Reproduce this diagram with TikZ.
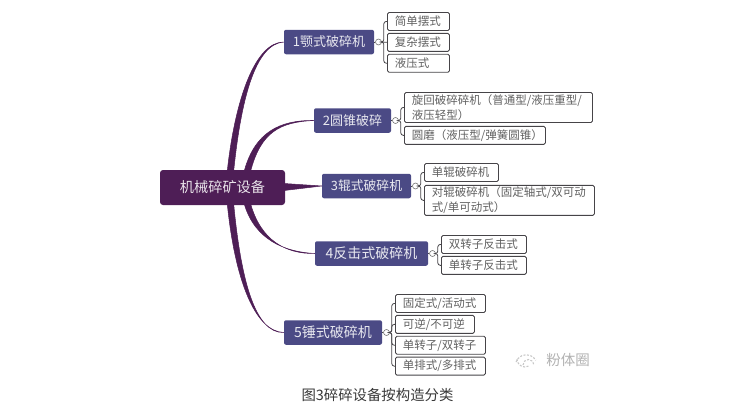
\documentclass[tikz,border=0pt]{standalone}
\usepackage{xcolor}
\usepackage{fontspec}
\setmainfont{Noto Sans CJK SC}
\usepackage{tikz}
\definecolor{rootPurple}{RGB}{78, 30, 86}
\definecolor{branchBlue}{RGB}{75, 74, 133}
\definecolor{leafGray}{RGB}{70, 68, 72}
\usetikzlibrary{positioning, calc}
\newcommand{\taper}[4]{\fill[trunk] ($(#1)+(-3.2,0)$) .. controls ($(#2)+(-3,0)$) and ($(#3)+(0,-1)$) .. (#4.west) .. controls ($(#3)+(0,1)$) and ($(#2)+(3,0)$) .. ($(#1)+(3.2,0)$) -- cycle;}

\begin{document}
\begin{tikzpicture}[
    x=1pt, y=-1pt,
    node distance=100pt,
    rootbox/.style={rectangle, rounded corners=3pt, fill=rootPurple, text=white!88!rootPurple, minimum width=125pt, minimum height=35pt, font=\fontsize{14.2}{17}\selectfont},
    branchbox/.style={rectangle, rounded corners=2pt, fill=branchBlue, text=white!88!branchBlue, minimum height=24.5pt, inner xsep=0pt, font=\fontsize{#1}{16}\selectfont},
    leaf/.style={rectangle, rounded corners=1.5pt, draw=leafGray, line width=.9pt, fill=white, text=black!62, anchor=north west, align=left, inner xsep=7.5pt, inner ysep=0pt, text width=#1-15pt, minimum height=18pt, font=\fontsize{11.5}{14.5}\selectfont},
    knot/.style={circle, draw=black!55, fill=white, line width=.6pt, inner sep=0pt, minimum size=6pt},
    twig/.style={draw=leafGray, line width=.8pt, rounded corners=2.5pt},
    trunk/.style={fill=rootPurple, draw=rootPurple, line width=.5pt}
]
    \useasboundingbox (0,0) rectangle (750,415);

    \node[rootbox] (root) at (222.5,187.5) {机械碎矿设备};

    % main categories
    \node[branchbox=13, minimum width=90pt, right of=root, xshift=6.5pt, yshift=145.5pt] (jaw) {1颚式破碎机};
    \node[branchbox=13, minimum width=77pt, right of=root, xshift=30pt, yshift=67pt] (cone) {2圆锥破碎};
    \node[branchbox=12.8, minimum width=89pt, right of=root, xshift=44pt, yshift=1.5pt] (roll) {3辊式破碎机};
    \node[branchbox=14, minimum width=113pt, right of=root, xshift=49pt, yshift=-66pt] (impact) {4反击式破碎机};
    \node[branchbox=14, minimum width=98pt, right of=root, xshift=10.5pt, yshift=-145pt] (hammer) {5锤式破碎机};

    % trunk lines
    \taper{$(root.north)+(8,1)$}{238,100}{255,43}{jaw}
    \taper{$(root.north)+(25,1)$}{258,132}{280,121}{cone}
    \fill[trunk] ($(root.east)+(-1,-4)$) -- (roll.west) -- ($(root.east)+(-1,3)$) -- cycle;
    \taper{$(root.south)+(25,-1)$}{258,240}{285,253}{impact}
    \taper{$(root.south)+(8,-1)$}{238,280}{255,332.5}{hammer}

    % leaves
    \node[leaf=62pt] (jawa) at (387,12) {简单摆式};
    \node[leaf=62pt, below=2pt of jawa.south west, anchor=north west] (jawb) {复杂摆式};
    \node[leaf=62pt, below=2pt of jawb.south west, anchor=north west] (jawc) {液压式};

    \node[leaf=188pt, minimum height=30pt] (conea) at (404,92) {旋回破碎碎机（普通型/液压重型/\\液压轻型）};
    \node[leaf=141pt, below=3pt of conea.south west, anchor=north west] (coneb) {圆磨（液压型/弹簧圆锥）};

    \node[leaf=74pt] (rolla) at (424,163) {单辊破碎机};
    \node[leaf=170pt, minimum height=30pt, below=3pt of rolla.south west, anchor=north west] (rollb) {对辊破碎机（固定轴式/双可动\\式/单可动式）};

    \node[leaf=85pt] (impacta) at (441,235) {双转子反击式};
    \node[leaf=85pt, below=2pt of impacta.south west, anchor=north west] (impactb) {单转子反击式};

    \node[leaf=90pt] (hammera) at (395,294) {固定式/活动式};
    \node[leaf=79pt, below=2pt of hammera.south west, anchor=north west] (hammerb) {可逆/不可逆};
    \node[leaf=90pt, below=2pt of hammerb.south west, anchor=north west] (hammerc) {单转子/双转子};
    \node[leaf=90pt, below=2pt of hammerc.south west, anchor=north west] (hammerd) {单排式/多排式};

    % knots and twigs
    \node[knot, right=1pt of jaw] (jawk) {};
    \node[knot, right=1pt of cone] (conek) {};
    \node[knot, right=1pt of roll] (rollk) {};
    \node[knot, right=1pt of impact] (impactk) {};
    \node[knot, right=1pt of hammer] (hammerk) {};

    \draw[twig] (jaw) -- (jawk);
    \draw[twig] (cone) -- (conek);
    \draw[twig] (roll) -- (rollk);
    \draw[twig] (impact) -- (impactk);
    \draw[twig] (hammer) -- (hammerk);

    \draw[twig] (jawk.east) -- ++(2,0) |- (jawa.west);
    \draw[twig] (jawk.east) -- (jawb.west);
    \draw[twig] (jawk.east) -- ++(2,0) |- (jawc.west);
    \draw[twig] (conek.east) -- ++(2,0) |- (conea.west);
    \draw[twig] (conek.east) -- ++(2,0) |- (coneb.west);
    \draw[twig] (rollk.east) -- ++(2,0) |- (rolla.west);
    \draw[twig] (rollk.east) -- ++(2,0) |- (rollb.west);
    \draw[twig] (impactk.east) -- ++(2,0) |- (impacta.west);
    \draw[twig] (impactk.east) -- ++(2,0) |- (impactb.west);
    \draw[twig] (hammerk.east) -- ++(2,0) |- (hammera.west);
    \draw[twig] (hammerk.east) -- ++(2,0) |- (hammerb.west);
    \draw[twig] (hammerk.east) -- ++(2,0) |- (hammerc.west);
    \draw[twig] (hammerk.east) -- ++(2,0) |- (hammerd.west);

    % watermark
    \draw[black!22, line width=1.1pt, dash pattern=on 2pt off 1.5pt] (517,359) arc (180:60:8);
    \draw[black!22, line width=1.1pt, dash pattern=on 2pt off 1.5pt] (523,365) arc (180:360:5.5);
    \draw[black!22, line width=1.1pt, dash pattern=on 2pt off 1.5pt] (516,362) arc (200:330:11);
    \node[text=black!30, font=\fontsize{14.5}{17}\selectfont] (mark) at (568,360) {粉体圈};

    \node[text=black!78, font=\fontsize{14.4}{17}\selectfont] (caption) at (377.5,395.5) {图3碎碎设备按构造分类};
\end{tikzpicture}
\end{document}
